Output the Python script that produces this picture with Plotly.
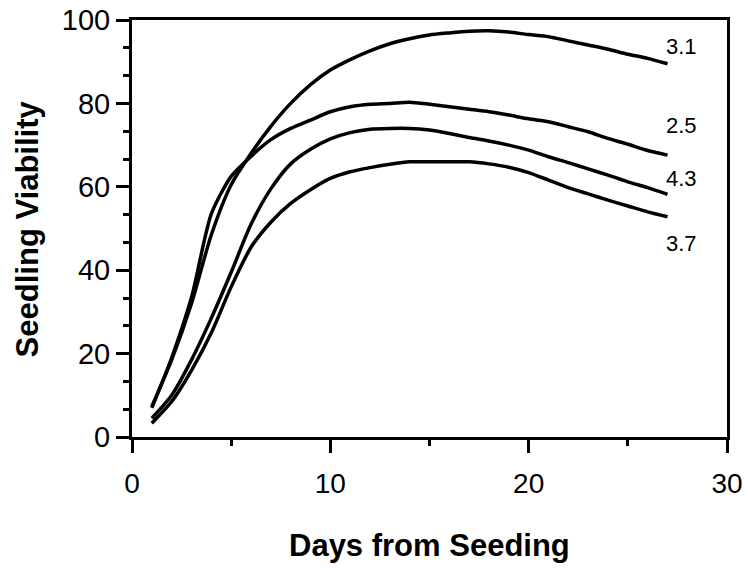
import plotly.graph_objects as go

days = list(range(1, 28))

v_31 = [7.3, 18.5, 32.0, 48.5, 60.5, 68.0, 74.5, 80.0, 84.5, 88.0, 90.5, 92.6, 94.3, 95.5,
        96.4, 96.9, 97.3, 97.4, 97.1, 96.5, 96.0, 95.0, 94.0, 93.0, 91.8, 90.8, 89.5]
v_25 = [7.0, 19.0, 33.5, 53.5, 62.5, 67.3, 71.3, 74.0, 76.0, 78.0, 79.2, 79.8, 80.0, 80.3,
        79.8, 79.2, 78.6, 78.0, 77.2, 76.3, 75.6, 74.4, 73.2, 71.6, 70.2, 68.7, 67.6]
v_43 = [4.5, 10.0, 18.5, 28.5, 39.5, 51.0, 59.5, 65.5, 69.0, 71.5, 73.0, 73.8, 74.0, 74.0,
        73.6, 72.8, 71.8, 71.0, 70.0, 68.8, 67.2, 65.8, 64.3, 62.8, 61.2, 59.8, 58.2]
v_37 = [3.3, 8.5, 16.0, 25.0, 36.0, 45.5, 51.5, 56.0, 59.3, 62.0, 63.6, 64.6, 65.4, 66.0,
        66.0, 66.0, 66.0, 65.5, 64.7, 63.4, 61.6, 59.8, 58.3, 56.8, 55.4, 54.0, 52.8]

series_names = ["3.1", "2.5", "4.3", "3.7"]
series_vals = [v_31, v_25, v_43, v_37]
label_x = 27.7
label_y = [93.6, 74.8, 62.1, 46.4]

x_title = "Days from Seeding"
y_title = "Seedling Viability"

FONT = "Liberation Sans, Arial, Helvetica"

fig = go.Figure()
for name, vals in zip(series_names, series_vals):
    fig.add_trace(go.Scatter(x=days, y=vals, mode="lines", name=name,
                             line=dict(color="black", width=3.5, shape="spline", smoothing=0.7),
                             showlegend=False, hoverinfo="skip"))

for name, ly in zip(series_names, label_y):
    fig.add_annotation(x=label_x, y=ly, text=name, showarrow=False, xanchor="center", yanchor="middle",
                       font=dict(family=FONT, size=22, color="black"))

fig.add_annotation(xref="paper", yref="paper", x=-0.175, y=0.5, text=f"<b>{y_title}</b>",
                   textangle=-90, showarrow=False, xanchor="center", yanchor="middle",
                   font=dict(family=FONT, size=31, color="black"))
fig.add_annotation(xref="paper", yref="paper", x=0.5, y=-0.259, text=f"<b>{x_title}</b>",
                   showarrow=False, xanchor="center", yanchor="middle",
                   font=dict(family=FONT, size=31, color="black"))

fig.update_xaxes(range=[0, 30], tickvals=[0, 10, 20, 30],
                 ticks="outside", ticklen=13, tickwidth=3, tickcolor="black",
                 minor=dict(dtick=5, tick0=0, ticks="outside", ticklen=6, tickwidth=3, tickcolor="black"),
                 showline=True, linewidth=3, linecolor="black", mirror=True,
                 showgrid=False, zeroline=False, ticklabelstandoff=6, automargin=False,
                 tickfont=dict(family=FONT, size=28, color="black"))
fig.update_yaxes(range=[0, 100], tickvals=[0, 20, 40, 60, 80, 100],
                 ticks="outside", ticklen=13, tickwidth=3, tickcolor="black",
                 minor=dict(dtick=20 / 3, tick0=0, ticks="outside", ticklen=6, tickwidth=3, tickcolor="black"),
                 showline=True, linewidth=3, linecolor="black", mirror=True,
                 showgrid=False, zeroline=False, automargin=False,
                 tickfont=dict(family=FONT, size=29, color="black"))

fig.update_layout(width=748, height=568, margin=dict(l=132, r=21, t=20, b=131),
                  plot_bgcolor="white", paper_bgcolor="white")

fig.write_html("out.html", config={"displayModeBar": False},
               post_script="document.body.style.margin='0';document.body.style.overflow='hidden';")
